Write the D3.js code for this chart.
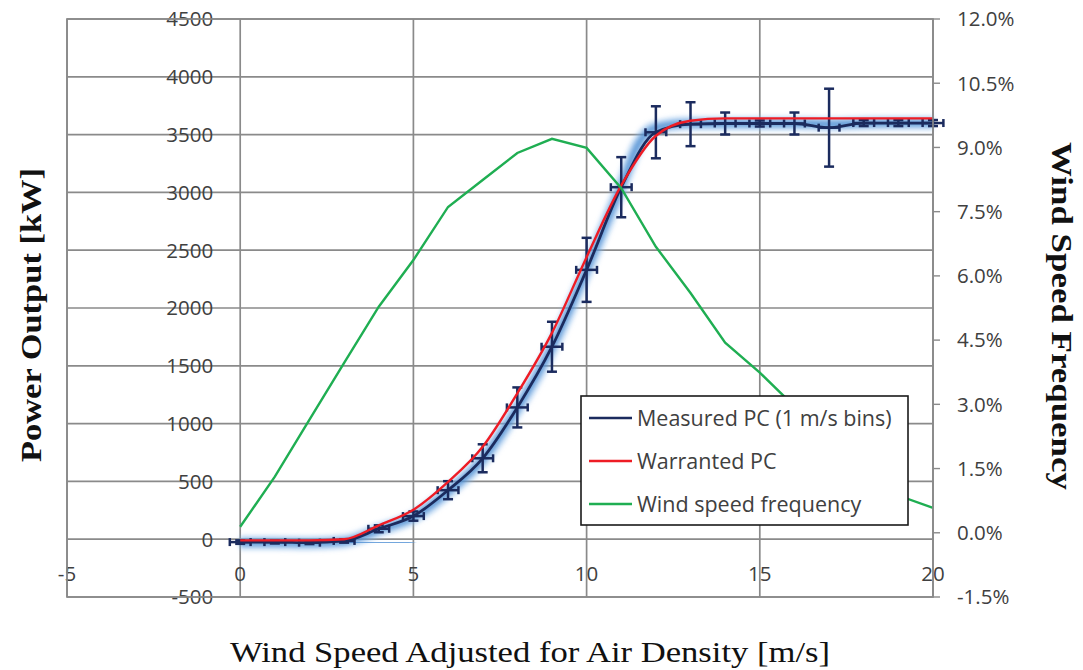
<!DOCTYPE html>
<html>
<head>
<meta charset="utf-8">
<script src="https://cdn.jsdelivr.net/npm/d3@7"></script>
<style>
body { margin: 0; background: #fff; }
svg { display: block; }
</style>
</head>
<body>
<div id="vue"></div>
<script>
// valeurs
var speeds = [0,1,2,3,4,5,6,7,8,9,10,11,12,13,14,15,16,17,18,19,20];
var measuredPower = [-25,-25,-30,-15,90,200,424,700,1140,1665,2330,3045,3520,3590,3596,3596,3596,3560,3600,3600,3600];
var measuredErr = [15,12,12,15,30,40,78,121,173,216,277,260,225,190,95,26,95,337,26,26,26];
var binHalfWidth = 0.3;
var warrantedPower = [-10,-10,-10,0,120,255,496,800,1262,1785,2440,3060,3490,3620,3640,3640,3640,3640,3640,3640,3640];
var windFreq = [0.14,1.31,2.64,3.97,5.28,6.37,7.61,8.24,8.87,9.2,8.99,8.05,6.68,5.6,4.44,3.74,2.95,2.15,1.45,0.87,0.58];

// nuage de points (10 min) : trace moyenne du nuage
var cloudSpeed = [0,1,2,3,4,5,6,7,8,9,10,11,11.5,12,13,14,15,16,17,18,19,20];
var cloudPower = [-30,-30,-35,-20,80,190,410,690,1130,1660,2330,3050,3420,3560,3595,3596,3596,3596,3590,3598,3600,3600];
var cloudLowSpeed = [3,4,5];
var cloudLowPower = [-30,-30,-25];

var xTicks = [-5,0,5,10,15,20];
var yTicks = [-500,0,500,1000,1500,2000,2500,3000,3500,4000,4500];
var rTicks = [-1.5,0,1.5,3,4.5,6,7.5,9,10.5,12];

var legendLabels = ["Measured PC (1 m/s bins)", "Warranted PC", "Wind speed frequency"];

var width = 1083, height = 670;
var navy = "#1b2b5e", red = "#ee1c25", green = "#1fae52", grid = "#8a8a8a";

var svg = d3.select("#vue").append("svg")
	.attr("width", width)
	.attr("height", height);

var x = d3.scaleLinear().domain([-5,20]).range([67,933]);
var yL = d3.scaleLinear().domain([-500,4500]).range([597,19]);
var yR = d3.scaleLinear().domain([-1.5,12]).range([597,19]);

var defs = svg.append("defs");
defs.append("filter").attr("id","flou").attr("x","-5%").attr("y","-5%").attr("width","110%").attr("height","110%")
	.append("feGaussianBlur").attr("stdDeviation", 2.2);

// grille
svg.append("g").selectAll("line").data(yTicks).enter().append("line")
	.attr("x1", x(-5)).attr("x2", x(20))
	.attr("y1", function(d){ return yL(d); }).attr("y2", function(d){ return yL(d); })
	.attr("stroke", grid).attr("stroke-width", 1.7);
svg.append("g").selectAll("line").data(xTicks).enter().append("line")
	.attr("y1", yL(-500)).attr("y2", yL(4500))
	.attr("x1", function(d){ return x(d); }).attr("x2", function(d){ return x(d); })
	.attr("stroke", grid).attr("stroke-width", 1.7);

// petites graduations de l'axe de droite
svg.append("g").selectAll("line").data(rTicks).enter().append("line")
	.attr("x1", x(20)).attr("x2", x(20) + 7)
	.attr("y1", function(d){ return yR(d); }).attr("y2", function(d){ return yR(d); })
	.attr("stroke", grid).attr("stroke-width", 1.4);

// étiquettes des axes
var tickFont = "'Open Sans', 'Liberation Sans', sans-serif";
svg.append("g").selectAll("text").data(yTicks).enter().append("text")
	.attr("x", x(0) - 27).attr("y", function(d){ return yL(d); })
	.attr("dy", "0.36em").attr("text-anchor", "end")
	.style("font-family", tickFont).style("font-size", "20.5px").style("fill", "#404040")
	.text(function(d){ return d; });
svg.append("g").selectAll("text").data(xTicks).enter().append("text")
	.attr("x", function(d){ return x(d); }).attr("y", yL(0) + 34)
	.attr("dy", "0.36em").attr("text-anchor", "middle")
	.style("font-family", tickFont).style("font-size", "20.5px").style("fill", "#404040")
	.text(function(d){ return d; });
svg.append("g").selectAll("text").data(rTicks).enter().append("text")
	.attr("x", x(20) + 24).attr("y", function(d){ return yR(d); })
	.attr("dy", "0.36em").attr("text-anchor", "start")
	.style("font-family", tickFont).style("font-size", "20.5px").style("fill", "#404040")
	.text(function(d){ return d3.format(".1f")(d).replace("\u2212", "-") + "%"; });

// nuage de mesures
var lineCloud = d3.line()
	.x(function(d){ return x(d[0]); })
	.y(function(d){ return yL(d[1]); })
	.curve(d3.curveMonotoneX);
var cloud = d3.zip(cloudSpeed, cloudPower);
var cloudLow = d3.zip(cloudLowSpeed, cloudLowPower);
[cloud, cloudLow].forEach(function(c){
	svg.append("path").attr("d", lineCloud(c))
		.attr("fill","none").attr("stroke","#8dbbea").attr("stroke-width",15)
		.attr("stroke-opacity",0.45).attr("filter","url(#flou)");
	svg.append("path").attr("d", lineCloud(c))
		.attr("fill","none").attr("stroke","#3f84cf").attr("stroke-width",7)
		.attr("stroke-opacity",0.7).attr("filter","url(#flou)");
});

// courbe mesurée
var lineL = d3.line()
	.x(function(d){ return x(d[0]); })
	.y(function(d){ return yL(d[1]); })
	.curve(d3.curveMonotoneX);
var measured = d3.zip(speeds, measuredPower, measuredErr);
svg.append("path").attr("d", lineL(measured))
	.attr("fill","none").attr("stroke", navy).attr("stroke-width", 2.8);

// barres d'erreur
var bars = svg.append("g").attr("stroke", navy).attr("stroke-width", 2.5);
measured.forEach(function(d){
	var cx = x(d[0]), cy = yL(d[1]);
	var top = yL(d[1] + d[2]), bot = yL(d[1] - d[2]);
	var left = x(d[0] - binHalfWidth), right = x(d[0] + binHalfWidth);
	bars.append("line").attr("x1",cx).attr("x2",cx).attr("y1",top).attr("y2",bot);
	bars.append("line").attr("x1",cx-5).attr("x2",cx+5).attr("y1",top).attr("y2",top);
	bars.append("line").attr("x1",cx-5).attr("x2",cx+5).attr("y1",bot).attr("y2",bot);
	bars.append("line").attr("x1",left).attr("x2",right).attr("y1",cy).attr("y2",cy);
	bars.append("line").attr("x1",left).attr("x2",left).attr("y1",cy-4).attr("y2",cy+4);
	bars.append("line").attr("x1",right).attr("x2",right).attr("y1",cy-4).attr("y2",cy+4);
});

// courbe garantie
svg.append("path").attr("d", lineL(d3.zip(speeds, warrantedPower)))
	.attr("fill","none").attr("stroke", red).attr("stroke-width", 2.4);

// fréquence du vent (axe de droite)
var lineR = d3.line()
	.x(function(d){ return x(d[0]); })
	.y(function(d){ return yR(d[1]); });
svg.append("path").attr("d", lineR(d3.zip(speeds, windFreq)))
	.attr("fill","none").attr("stroke", green).attr("stroke-width", 2.4);

// bordure
svg.append("rect").attr("x", x(-5)).attr("y", yL(4500))
	.attr("width", x(20) - x(-5)).attr("height", yL(-500) - yL(4500))
	.attr("fill","none").attr("stroke", grid).attr("stroke-width", 1.7);

// légende
var leg = svg.append("g").attr("transform","translate(581,396)");
leg.append("rect").attr("width",327).attr("height",129)
	.attr("fill","#fff").attr("stroke","#1a1a1a").attr("stroke-width",1.6);
var legColors = [navy, red, green];
legendLabels.forEach(function(t,i){
	var yy = 22 + i*43;
	leg.append("line").attr("x1",8).attr("x2",51).attr("y1",yy).attr("y2",yy)
		.attr("stroke", legColors[i]).attr("stroke-width",2.6);
	leg.append("text").attr("x",56).attr("y",yy).attr("dy","0.36em")
		.style("font-family", tickFont).style("font-size","21.5px").style("fill","#404040")
		.text(t);
});

// titres
var serif = "'Liberation Serif', 'Times New Roman', serif";
svg.append("text").attr("x", 530).attr("y", 662)
	.attr("text-anchor","middle")
	.attr("textLength", 600).attr("lengthAdjust","spacingAndGlyphs")
	.style("font-family", serif).style("font-size","30px").style("fill","#111")
	.text("Wind Speed Adjusted for Air Density [m/s]");
svg.append("text").attr("transform","translate(41,315) rotate(-90)")
	.attr("text-anchor","middle")
	.attr("textLength", 294).attr("lengthAdjust","spacingAndGlyphs")
	.style("font-family", serif).style("font-size","29px").style("font-weight","bold").style("fill","#111")
	.text("Power Output [kW]");
svg.append("text").attr("transform","translate(1052,316) rotate(90)")
	.attr("text-anchor","middle")
	.attr("textLength", 348).attr("lengthAdjust","spacingAndGlyphs")
	.style("font-family", serif).style("font-size","29px").style("font-weight","bold").style("fill","#111")
	.text("Wind Speed Frequency");
</script>
</body>
</html>
